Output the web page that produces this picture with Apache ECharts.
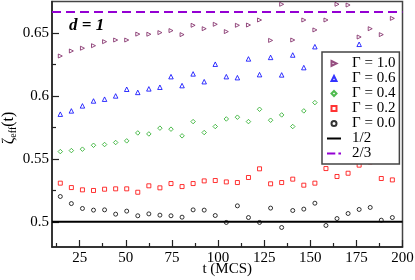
<!DOCTYPE html>
<html>
<head>
<meta charset="utf-8">
<script src="https://cdn.jsdelivr.net/npm/echarts@6/dist/echarts.min.js"></script>
<style>html,body{margin:0;padding:0;background:#fff}#c{width:415px;height:280px}</style>
</head>
<body>
<div id="c"></div>
<script>
// ---- data ----
const tValues = [14.5,20.5,26.5,32.5,38.5,44.5,50.5,56.5,62.5,68.5,74.5,80.5,86.5,92.5,98.5,104.5,110.5,116.5,122.5,128.5,134.5,140.5,146.5,152.5,158.5,164.5,170.5,176.5,182.5,188.5,194.5];
const gamma10 = [0.6317,0.6357,0.6379,0.6399,0.6431,0.6444,0.6444,0.6491,0.6490,0.6503,0.6519,0.6487,0.6561,0.6534,0.6569,0.6511,0.6561,0.6563,0.6603,0.6441,0.6728,0.6444,0.6603,0.6524,0.6603,0.6728,0.6722,0.6468,0.6534,0.6487,0.6616];
const gamma06 = [0.5855,0.5881,0.5921,0.5960,0.5974,0.6000,0.6053,0.6028,0.6056,0.6069,0.6153,0.6082,0.6175,0.6113,0.6252,0.6153,0.6145,0.6294,0.6169,0.6306,0.6167,0.6325,0.6225,0.6391,0.6250,0.6300,0.6280,0.6410,0.6300,0.6270,0.6310];
const gamma04 = [0.5558,0.5566,0.5577,0.5608,0.5614,0.5630,0.5643,0.5706,0.5698,0.5744,0.5736,0.5683,0.5796,0.5709,0.5757,0.5817,0.5831,0.5796,0.5894,0.5807,0.5849,0.5757,0.5881,0.5947,0.5900,0.5960,0.5930,0.5980,0.6010,0.5970,0.6020];
const gamma02 = [0.5307,0.5272,0.5254,0.5249,0.5259,0.5262,0.5262,0.5235,0.5286,0.5270,0.5304,0.5280,0.5304,0.5325,0.5328,0.5317,0.5312,0.5352,0.5421,0.5302,0.5312,0.5339,0.5291,0.5307,0.5423,0.5360,0.5386,0.5450,0.5476,0.5344,0.5333];
const gamma00 = [0.5201,0.5145,0.5106,0.5093,0.5095,0.5061,0.5085,0.5048,0.5063,0.5053,0.5048,0.5037,0.5095,0.5093,0.5050,0.4995,0.5127,0.5034,0.4995,0.5109,0.4955,0.5090,0.5101,0.5148,0.4971,0.5026,0.5066,0.5098,0.5114,0.5013,0.5034];
const HALF = 0.5;
const TWO_THIRDS = 2 / 3;
const xRange = [10, 200];
const yRange = [0.48, 0.675];
const xMajorTicks = [25, 50, 75, 100, 125, 150, 175, 200];
const xMinorTicks = [12.5, 37.5, 62.5, 87.5, 112.5, 137.5, 162.5, 187.5];
const yMajorTicks = [0.5, 0.55, 0.6, 0.65];
const yMinorTicks = [0.525, 0.575, 0.625];
const legendNames = ['Γ = 1.0', 'Γ = 0.6', 'Γ = 0.4', 'Γ = 0.2', 'Γ = 0.0', '1/2', '2/3'];

// ---- chart ----
const SERIF = "'Liberation Serif', 'Times New Roman', 'DejaVu Serif', serif";
const pairs = vals => vals.map((v, i) => [tValues[i], v]);
const hollow = c => ({ color: 'rgba(255,255,255,0)', borderColor: c, borderWidth: 1 });
const chart = echarts.init(document.getElementById('c'), null, { renderer: 'canvas' });

const SYM = {
  rtri: 'path://M0,0L10,5L0,10Z',
  tri: 'path://M5,0L10,10L0,10Z',
  diamond: 'path://M5,0L10,5L5,10L0,5Z',
  rect: 'path://M0,0h10v10h-10Z',
  circle: 'path://M0,5A5,5,0,1,0,10,5A5,5,0,1,0,0,5Z',
  half: 'path://M0,0h14v2h-14Z',
  twoThirds: 'path://M0,0h8v2h-8ZM11,0h2.5v2h-2.5Z'
};
const legendIcons = {
  'Γ = 1.0': SYM.rtri, 'Γ = 0.6': SYM.tri, 'Γ = 0.4': SYM.diamond,
  'Γ = 0.2': SYM.rect, 'Γ = 0.0': SYM.circle, '1/2': SYM.half, '2/3': SYM.twoThirds
};

function scatter(name, vals, symbol, color, size) {
  return {
    name, type: 'scatter', data: pairs(vals), symbol, symbolSize: size,
    itemStyle: hollow(color), emphasis: { disabled: true }, z: 3
  };
}
function hline(name, value, color, type) {
  return {
    name, type: 'line', data: [[xRange[0], value], [xRange[1], value]],
    symbol: 'none', lineStyle: { color, width: 2, type }, itemStyle: { color },
    emphasis: { disabled: true }, z: 2
  };
}

const axisColor = '#222';
const labelFont = { fontFamily: SERIF, fontSize: 15, color: '#000' };
chart.setOption({
  animation: false,
  textStyle: { fontFamily: SERIF },
  grid: { left: 52, right: 12.5, top: 1.5, bottom: 33, containLabel: false, outerBoundsMode: 'none',
          show: true, borderColor: '#444', borderWidth: 1.5, backgroundColor: 'transparent' },
  xAxis: [
    {
      type: 'value', min: xRange[0], max: xRange[1], position: 'bottom',
      axisLine: { show: true, onZero: false, lineStyle: { color: axisColor, width: 1.5 } },
      axisTick: { show: true, inside: true, length: 7, customValues: xMajorTicks, lineStyle: { color: axisColor, width: 1.2 } },
      axisLabel: Object.assign({ customValues: xMajorTicks, margin: 4 }, labelFont),
      splitLine: { show: false },
      name: 't (MCS)', nameLocation: 'middle', nameGap: 15, nameMoveOverlap: false,
      nameTextStyle: labelFont
    },
    {
      type: 'value', min: xRange[0], max: xRange[1], position: 'bottom',
      axisLine: { show: false },
      axisTick: { show: true, inside: true, length: 4, customValues: xMinorTicks, lineStyle: { color: axisColor, width: 1.2 } },
      axisLabel: { show: false }, splitLine: { show: false }
    }
  ],
  yAxis: [
    {
      type: 'value', min: yRange[0], max: yRange[1], position: 'left',
      axisLine: { show: true, onZero: false, lineStyle: { color: axisColor, width: 1.5 } },
      axisTick: { show: true, inside: true, length: 7, customValues: yMajorTicks, lineStyle: { color: axisColor, width: 1.2 } },
      axisLabel: Object.assign({ customValues: yMajorTicks, margin: 3 }, labelFont),
      splitLine: { show: false }
    },
    {
      type: 'value', min: yRange[0], max: yRange[1], position: 'left',
      axisLine: { show: false },
      axisTick: { show: true, inside: true, length: 4, customValues: yMinorTicks, lineStyle: { color: axisColor, width: 1.2 } },
      axisLabel: { show: false }, splitLine: { show: false }
    }
  ],
  legend: {
    orient: 'vertical', left: 322, top: 52,
    padding: [4, 4, 3, 5],
    borderColor: '#444', borderWidth: 1.5, backgroundColor: '#fff',
    itemWidth: 14, itemHeight: 5, itemGap: 0, symbolKeepAspect: true,
    textStyle: { fontFamily: SERIF, fontSize: 15, lineHeight: 14.5, color: '#000', padding: [0, 0, 0, 6] },
    data: legendNames.map(n => ({ name: n, icon: legendIcons[n] })),
    selectedMode: false, z: 10
  },
  series: [
    hline('1/2', HALF, '#000', 'solid'),
    hline('2/3', TWO_THIRDS, '#9400d3', [9, 5]),
    scatter('Γ = 1.0', gamma10, SYM.rtri, '#7a2060', 4),
    scatter('Γ = 0.6', gamma06, 'triangle', '#0000ff', 4.5),
    scatter('Γ = 0.4', gamma04, 'diamond', '#22aa22', 4.5),
    scatter('Γ = 0.2', gamma02, 'rect', '#ff0000', 4),
    scatter('Γ = 0.0', gamma00, 'circle', '#000', 4)
  ],
  graphic: [
    { type: 'text', left: 69, top: 17, z: 20,
      style: { text: 'd = 1', fontFamily: SERIF, fontSize: 17, fontWeight: 'bold', fontStyle: 'italic', fill: '#000' } },
    { type: 'text', x: 9, y: 128, rotation: Math.PI / 2, z: 20,
      style: {
        text: '{a|ζ}{b|eff}{a|(t)}', align: 'center', verticalAlign: 'middle', fontFamily: SERIF,
        rich: {
          a: { fontFamily: SERIF, fontSize: 16, fill: '#000' },
          b: { fontFamily: SERIF, fontSize: 10, fill: '#000', padding: [9, 0, 0, 0] }
        }
      } }
  ]
});
</script>
</body>
</html>
